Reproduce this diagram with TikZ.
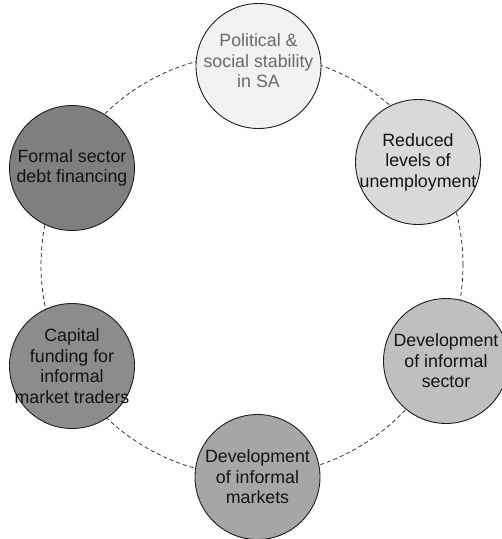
\documentclass[tikz,border=0pt]{standalone}
\usepackage{fontspec}
\setmainfont{Liberation Sans}
\definecolor{f1}{RGB}{242,242,242}
\definecolor{f2}{RGB}{217,217,217}
\definecolor{f3}{RGB}{191,191,191}
\definecolor{f4}{RGB}{166,166,166}
\definecolor{f5}{RGB}{140,140,140}
\definecolor{f6}{RGB}{127,127,127}
\definecolor{edge}{RGB}{30,30,30}
\definecolor{lighttxt}{RGB}{105,105,105}
\definecolor{darktxt}{RGB}{20,20,20}
\begin{document}
\begin{tikzpicture}[x=1pt,y=-1pt,
  bub/.style={circle,draw=edge,line width=0.9pt,minimum size=125pt,inner sep=0pt},
  txt/.style={align=center,inner sep=0pt,text=darktxt,font=\fontsize{17.8}{20.5}\selectfont},
  ring/.style={draw=edge,line width=0.7pt,dash pattern=on 4pt off 3pt}]
\useasboundingbox (0,0) rectangle (502,539);
\coordinate (mid) at (252,265);
\draw[ring] (mid) circle[radius=211pt];
\node[bub,fill=f1] (c1) at (258.5,66) {};
\node[bub,fill=f2] (c2) at (418,162) {};
\node[bub,fill=f3] (c3) at (446,361) {};
\node[bub,fill=f4] (c4) at (257.5,477) {};
\node[bub,fill=f5] (c5) at (72,366) {};
\node[bub,fill=f6] (c6) at (72,168) {};
\node[txt,text=lighttxt] (t1) at ([yshift=5pt]c1) {Political \&\\social stability\\in SA};
\node[txt] (t2) at (c2) {Reduced\\levels of\\unemployment};
\node[txt] (t3) at (c3) {Development\\of informal\\sector};
\node[txt] (t4) at (c4) {Development\\of informal\\markets};
\node[txt] (t5) at (c5) {Capital\\funding for\\informal\\market traders};
\node[txt] (t6) at (c6) {Formal sector\\debt financing};
\end{tikzpicture}
\end{document}
